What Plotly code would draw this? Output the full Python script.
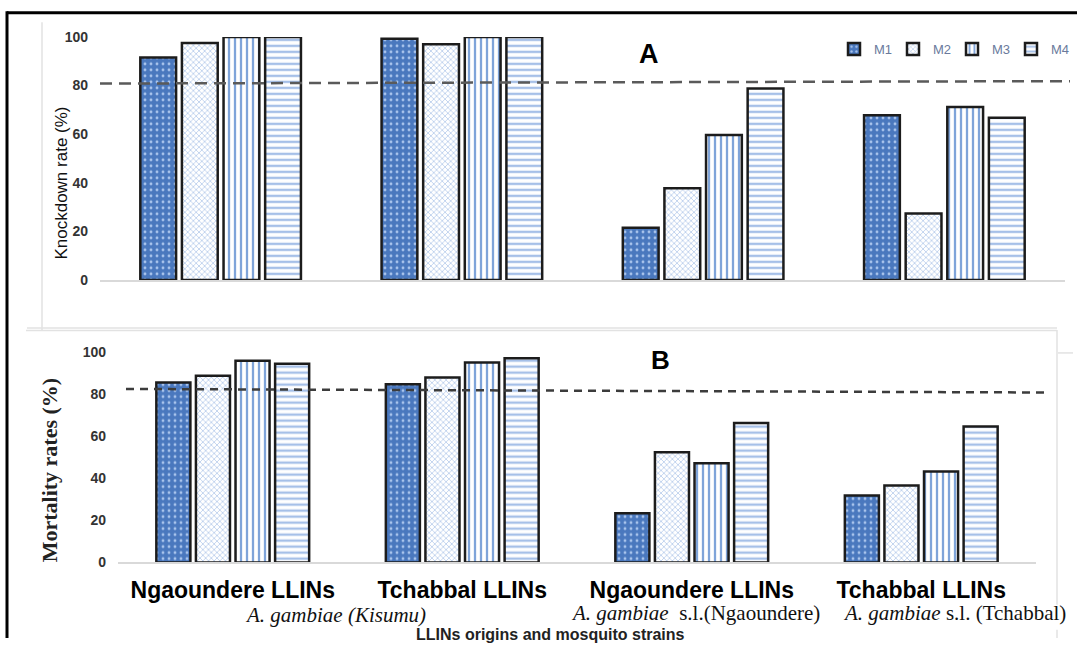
import plotly.graph_objects as go

W, H = 1077, 646

# ---------------- data ----------------
group_labels = ["Ngaoundere LLINs", "Tchabbal LLINs", "Ngaoundere LLINs", "Tchabbal LLINs"]
group_pos = [0, 1, 2, 3]
series_names = ["M1", "M2", "M3", "M4"]

knockdown_M1 = [91.5, 99.2, 21.5, 67.8]
knockdown_M2 = [97.5, 97.0, 37.7, 27.4]
knockdown_M3 = [100.0, 100.0, 59.6, 71.2]
knockdown_M4 = [100.0, 100.0, 78.8, 66.7]

mortality_M1 = [85.3, 84.5, 23.4, 31.8]
mortality_M2 = [88.6, 87.7, 52.3, 36.5]
mortality_M3 = [95.7, 94.8, 47.1, 43.1]
mortality_M4 = [94.2, 96.9, 66.1, 64.5]

threshold_A = [80.8, 81.8]   # dashed reference line, left / right end
threshold_B = [82.3, 80.6]

y_ticks = [0, 20, 40, 60, 80, 100]

strain_labels = [
    "<i>A. gambiae (Kisumu)</i>",
    "<i>A. gambiae</i>&nbsp; s.l.(Ngaoundere)",
    "<i>A. gambiae</i> s.l. (Tchabbal)",
]

# ---------------- styles ----------------
styles = {
    "M1": dict(color="#4a78be", pattern=dict(shape=".", bgcolor="#4a78be", fgcolor="#a9c4ec",
                                              size=6, solidity=0.18, fillmode="replace")),
    "M2": dict(color="#ffffff", pattern=dict(shape="x", bgcolor="#ffffff", fgcolor="#b3c9ea",
                                              size=4, solidity=0.35, fillmode="replace")),
    "M3": dict(color="#ffffff", pattern=dict(shape="|", bgcolor="#ffffff", fgcolor="#7fa4d9",
                                              size=6, solidity=0.38, fillmode="replace")),
    "M4": dict(color="#ffffff", pattern=dict(shape="-", bgcolor="#ffffff", fgcolor="#a6c0e8",
                                              size=6, solidity=0.40, fillmode="replace")),
}

# the page is photographed with an 8px top offset and a 0.976 vertical factor;
# positions below are given in the target picture's pixels and converted here
Y_OFF, Y_SCALE = 7.8, 0.976

def px_x(x):
    return x / W

def px_y(y):
    return 1 - ((y - Y_OFF) / Y_SCALE) / H

fig = go.Figure()

for name, vals in zip(series_names, [knockdown_M1, knockdown_M2, knockdown_M3, knockdown_M4]):
    st = styles[name]
    fig.add_trace(go.Bar(
        x=group_pos, y=vals, name=name, xaxis="x", yaxis="y",
        marker=dict(color=st["color"], pattern=st["pattern"],
                    line=dict(color="#1c1c1c", width=2.5)),
        cliponaxis=False, showlegend=True,
    ))

for name, vals in zip(series_names, [mortality_M1, mortality_M2, mortality_M3, mortality_M4]):
    st = styles[name]
    fig.add_trace(go.Bar(
        x=group_pos, y=vals, name=name, xaxis="x2", yaxis="y2",
        marker=dict(color=st["color"], pattern=st["pattern"],
                    line=dict(color="#1c1c1c", width=2.5)),
        cliponaxis=False, showlegend=False,
    ))

tickfont = dict(family="Liberation Sans", size=14, color="#333333", weight="bold")

fig.update_layout(
    width=W, height=H, autosize=False,
    margin=dict(l=0, r=0, t=0, b=0),
    paper_bgcolor="white", plot_bgcolor="white",
    barmode="group", bargap=0.31, bargroupgap=0.14,
    xaxis=dict(domain=[px_x(100), px_x(1065)], range=[-0.5, 3.5], anchor="y",
               showticklabels=False, showgrid=False, zeroline=False,
               showline=True, linecolor="#d9d9d9", linewidth=1.5, ticks=""),
    yaxis=dict(domain=[px_y(280), px_y(36.7)], range=[0, 100], anchor="x",
               tickvals=y_ticks, showgrid=False, zeroline=False, showline=False,
               tickfont=tickfont, ticklabelstandoff=11),
    xaxis2=dict(domain=[px_x(118), px_x(1036)], range=[-0.5, 3.5], anchor="y2",
                tickvals=group_pos, ticktext=group_labels,
                tickfont=dict(family="Liberation Sans", size=23, color="#000000", weight="bold"),
                ticklabelstandoff=6,
                showgrid=False, zeroline=False,
                showline=True, linecolor="#d9d9d9", linewidth=1.5, ticks=""),
    yaxis2=dict(domain=[px_y(562.7), px_y(351.7)], range=[0, 100], anchor="x2",
                tickvals=y_ticks, showgrid=False, zeroline=False, showline=False,
                tickfont=tickfont, ticklabelstandoff=11),
    legend=dict(orientation="h", x=px_x(1070), xanchor="right", y=px_y(49), yanchor="middle",
                bgcolor="rgba(0,0,0,0)", font=dict(family="Liberation Sans", size=13, color="#6a7a9c"),
                itemwidth=30, entrywidth=14, entrywidthmode="pixels", traceorder="normal"),
)

shapes = []
# frame lines
shapes.append(dict(type="line", xref="paper", yref="paper", x0=px_x(7), x1=1, y0=px_y(12.5), y1=px_y(12.5),
                   line=dict(color="#000000", width=3)))
shapes.append(dict(type="line", xref="paper", yref="paper", x0=px_x(7), x1=px_x(7), y0=px_y(11), y1=0,
                   line=dict(color="#000000", width=3)))
grey = "#e2e2e2"
shapes.append(dict(type="line", xref="paper", yref="paper", x0=px_x(42), x1=px_x(42), y0=px_y(22), y1=px_y(330),
                   line=dict(color=grey, width=1.5)))
shapes.append(dict(type="line", xref="paper", yref="paper", x0=px_x(27), x1=px_x(1057), y0=px_y(328), y1=px_y(328),
                   line=dict(color=grey, width=1.5)))
shapes.append(dict(type="line", xref="paper", yref="paper", x0=px_x(26), x1=px_x(1057), y0=px_y(330.5), y1=px_y(330.5),
                   line=dict(color=grey, width=1.5)))
shapes.append(dict(type="line", xref="paper", yref="paper", x0=px_x(1057), x1=px_x(1057), y0=px_y(330), y1=px_y(605),
                   line=dict(color=grey, width=1.5)))
shapes.append(dict(type="line", xref="paper", yref="paper", x0=px_x(1057), x1=px_x(1057), y0=px_y(630), y1=0,
                   line=dict(color=grey, width=1.5)))
shapes.append(dict(type="line", xref="paper", yref="paper", x0=px_x(1058), x1=px_x(1073), y0=px_y(353), y1=px_y(353),
                   line=dict(color=grey, width=1.5)))
# threshold dashed lines
shapes.append(dict(type="line", xref="paper", yref="y", x0=px_x(100), x1=px_x(1070),
                   y0=threshold_A[0], y1=threshold_A[1],
                   line=dict(color="#5a5a5a", width=2.5, dash="12px,7px")))
shapes.append(dict(type="line", xref="paper", yref="y2", x0=px_x(126), x1=px_x(1050),
                   y0=threshold_B[0], y1=threshold_B[1],
                   line=dict(color="#3c3c3c", width=2.5, dash="8px,6px")))
fig.update_layout(shapes=shapes)

def ann(text, x, y, size, family="Liberation Sans", color="#000000", weight="normal",
        xanchor="center", angle=0):
    return dict(text=text, x=px_x(x), y=px_y(y), xref="paper", yref="paper", showarrow=False,
                xanchor=xanchor, yanchor="middle", textangle=angle,
                font=dict(family=family, size=size, color=color, weight=weight))

annotations = [
    ann("A", 649, 54, 27, weight="bold"),
    ann("B", 660, 360, 26, weight="bold"),
    ann("Knockdown rate (%)", 61.5, 183, 17, color="#111111", angle=-90),
    ann("Mortality rates (%)", 49, 470.5, 22, family="Liberation Serif", color="#222222",
        weight="bold", angle=-90),
    ann(strain_labels[0], 335, 615, 21, family="Liberation Serif", color="#111111"),
    ann(strain_labels[1], 695, 613, 21, family="Liberation Serif", color="#111111"),
    ann(strain_labels[2], 841, 613, 21, family="Liberation Serif", color="#111111", xanchor="left"),
    ann("LLINs origins and mosquito strains", 550, 635, 16, color="#222222", weight="bold"),
]
fig.update_layout(annotations=annotations)

css_fix = (
    "var s=document.createElement('style');"
    "s.innerHTML='html,body{margin:0 !important;padding:0 !important;overflow:hidden !important;}';"
    "document.head.appendChild(s);"
)

fig.write_html("out.html", config={"displayModeBar": False}, post_script=css_fix)
